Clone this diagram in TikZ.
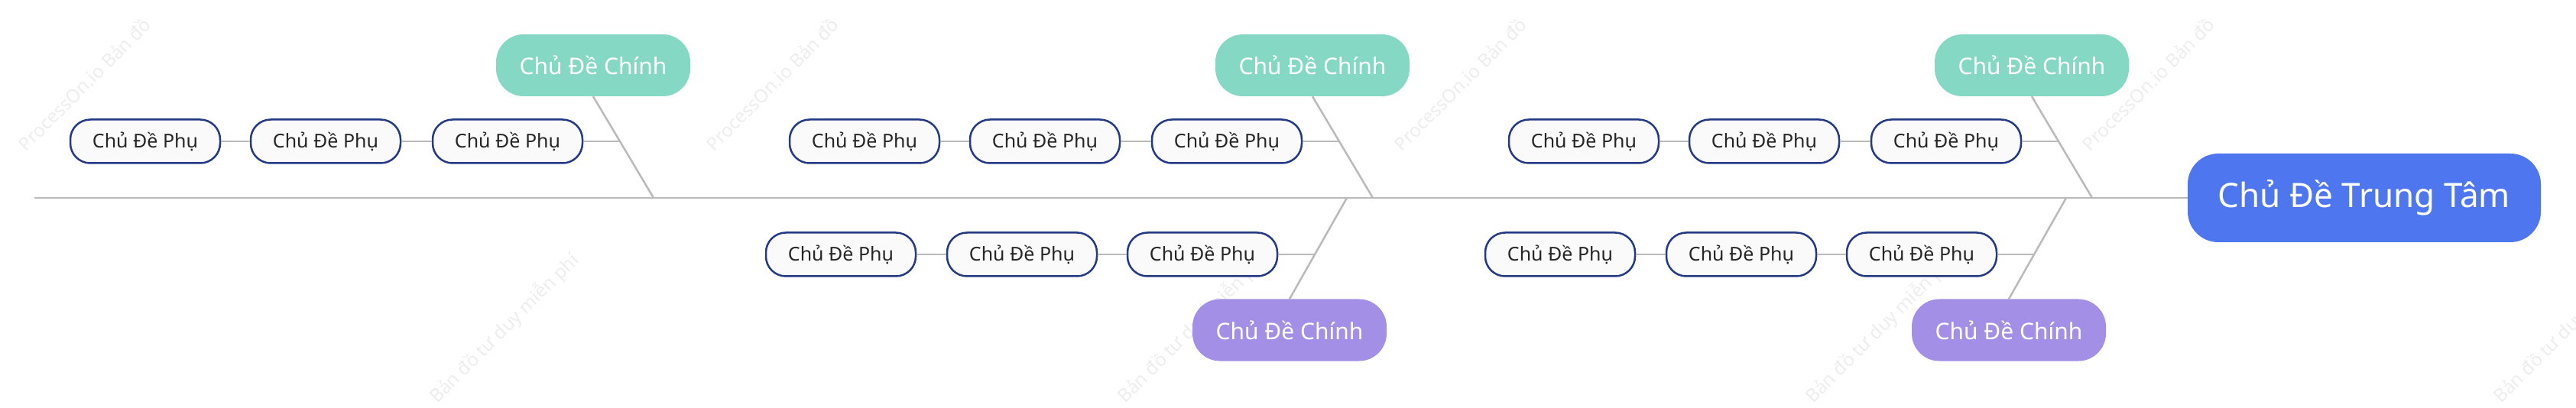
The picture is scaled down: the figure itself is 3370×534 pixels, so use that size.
\documentclass[tikz,border=0pt]{standalone}
\usepackage{fontspec}
\setmainfont{Noto Sans}
\begin{document}
\begin{tikzpicture}[x=1pt,y=-1pt,
 ln/.style={draw=black!27,line width=2.5pt},
 sub/.style={draw=sbc,fill=white!96!gray,line width=2.5pt,rounded corners=26pt,minimum width=196pt,minimum height=57pt,inner sep=0pt,font=\fontsize{25}{30}\selectfont,text=black!85},
 mtop/.style={rounded corners=36pt,minimum width=254pt,minimum height=81pt,inner sep=0pt,text=white,font=\fontsize{30}{36}\selectfont},
 wm/.style={text=black!7,rotate=45,font=\fontsize{24}{30}\selectfont}]
\definecolor{mtc}{HTML}{85D9C4}\definecolor{mbc}{HTML}{A390E6}\definecolor{cc}{HTML}{4E76EE}\definecolor{sbc}{HTML}{243A85}
\useasboundingbox (0,0) rectangle (3370,534);
\foreach \wx in {0,900,1800,2700}{
 \node[wm] (wa\wx) at (\wx+110,110) {ProcessOn.io Bản đồ};
 \node[wm] (wb\wx) at (\wx+660,430) {Bản đồ tư duy miễn phí};
}
\node[fill=cc,rounded corners=40pt,minimum width=462pt,minimum height=116pt,inner sep=0pt,text=white,font=\fontsize{44}{52}\selectfont] (c) at (3093,259) {Chủ Đề Trung Tâm};
\coordinate (s0) at (45,259);
\draw[ln] (s0) -- (c.west);
\foreach \k in {0,1,2}{
 \pgfmathsetmacro{\o}{941*\k}
 \node[mtop,fill=mtc] (t\k) at (776+\o,85.5) {Chủ Đề Chính};
 \coordinate (tj\k) at (855+\o,259);
 \coordinate (tp\k) at (812+\o,185);
 \draw[ln] (t\k.south) -- (tj\k);
 \node[sub] (ta\k) at (190+\o,185) {Chủ Đề Phụ};
 \node[sub] (tb\k) at (426+\o,185) {Chủ Đề Phụ};
 \node[sub] (tc\k) at (664+\o,185) {Chủ Đề Phụ};
 \draw[ln] (ta\k) -- (tb\k); \draw[ln] (tb\k) -- (tc\k); \draw[ln] (tc\k) -- (tp\k);
}
\foreach \k in {0,1}{
 \pgfmathsetmacro{\o}{941*\k}
 \node[mtop,fill=mbc] (b\k) at (1687+\o,432) {Chủ Đề Chính};
 \coordinate (bj\k) at (1762+\o,259);
 \coordinate (bp\k) at (1721+\o,333);
 \draw[ln] (b\k.north) -- (bj\k);
 \node[sub] (ba\k) at (1100+\o,333) {Chủ Đề Phụ};
 \node[sub] (bb\k) at (1337+\o,333) {Chủ Đề Phụ};
 \node[sub] (bc\k) at (1573+\o,333) {Chủ Đề Phụ};
 \draw[ln] (ba\k) -- (bb\k); \draw[ln] (bb\k) -- (bc\k); \draw[ln] (bc\k) -- (bp\k);
}
\end{tikzpicture}
\end{document}
